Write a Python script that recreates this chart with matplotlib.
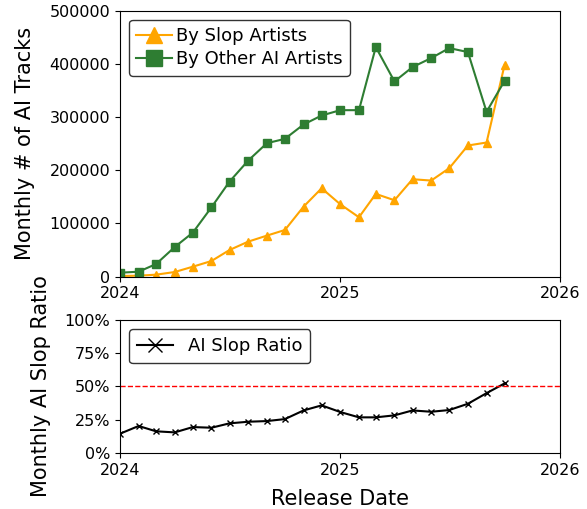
import pandas as pd
import matplotlib
matplotlib.use("Agg")
import matplotlib.pyplot as plt
import matplotlib.dates as mdates
from matplotlib.ticker import PercentFormatter

# monthly release dates, Jan 2024 .. Oct 2025
months = pd.date_range("2024-01-01", "2025-10-01", freq="MS")

slop_tracks = [1300, 1900, 3800, 8800, 18800, 29500, 50200, 65900, 77200, 87800,
               131700, 166200, 136100, 111700, 155600, 143700, 183200, 180700,
               203900, 246600, 252200, 398400]
other_ai_tracks = [7500, 9400, 23800, 55800, 82800, 130500, 178800, 218300, 250900,
                   259100, 286100, 303000, 313000, 313000, 431600, 367000, 394000,
                   410900, 429700, 422200, 309900, 368300]
slop_ratio = [0.145, 0.203, 0.163, 0.155, 0.195, 0.190, 0.223, 0.235, 0.240, 0.255,
              0.320, 0.358, 0.308, 0.268, 0.268, 0.283, 0.320, 0.310, 0.323, 0.370,
              0.450, 0.523]

fig = plt.figure(figsize=(5.87, 5.09), dpi=100)
ax1 = fig.add_axes([0.2044, 0.4564, 0.7496, 0.5226])
ax2 = fig.add_axes([0.2044, 0.1100, 0.7496, 0.2614])

ax1.plot(months, slop_tracks, color="orange", marker="^", markersize=6,
         label="By Slop Artists")
ax1.plot(months, other_ai_tracks, color="#2e7d32", marker="s", markersize=5.5,
         label="By Other AI Artists")
ax1.set_ylim(0, 500000)
ax1.set_ylabel("Monthly # of AI Tracks", fontsize=15, labelpad=10)
ax1.legend(loc="upper left", fontsize=13, edgecolor="black", markerscale=2,
           handlelength=2.0, borderpad=0.4, labelspacing=0.3, handletextpad=0.2)

ax2.plot(months, slop_ratio, color="black", marker="x", markersize=5,
         label="AI Slop Ratio")
ax2.axhline(0.5, color="red", linestyle="--", linewidth=1)
ax2.set_ylim(0, 1)
ax2.set_yticks([0, 0.25, 0.5, 0.75, 1.0])
ax2.yaxis.set_major_formatter(PercentFormatter(1.0, decimals=0))
ax2.set_ylabel("Monthly AI Slop Ratio", fontsize=15, labelpad=10)
ax2.set_xlabel("Release Date", fontsize=15, labelpad=8)
ax2.legend(loc="upper left", fontsize=13, edgecolor="black", markerscale=2,
           handlelength=2.0, borderpad=0.45)

for ax in (ax1, ax2):
    ax.set_xlim(pd.Timestamp("2024-01-01"), pd.Timestamp("2026-01-01"))
    ax.xaxis.set_major_locator(mdates.YearLocator())
    ax.xaxis.set_major_formatter(mdates.DateFormatter("%Y"))
    ax.tick_params(labelsize=11.5)

plt.savefig("out.png", dpi=100)
